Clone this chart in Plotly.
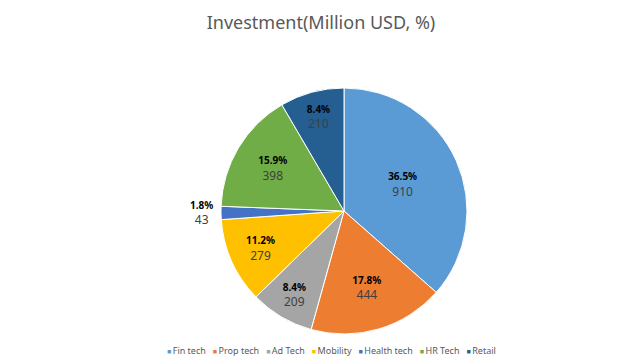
import plotly.graph_objects as go

categories = ["Fin tech", "Prop tech", "Ad Tech", "Mobility", "Health tech", "HR Tech", "Retail"]
values = [910, 444, 209, 279, 43, 398, 210]
percent_labels = ["36.5%", "17.8%", "8.4%", "11.2%", "1.8%", "15.9%", "8.4%"]
colors = ["#5B9BD5", "#ED7D31", "#A5A5A5", "#FFC000", "#4472C4", "#70AD47", "#255E91"]

W, H = 643, 362
cx, cy, r = 336, 203, 123

fig = go.Figure(go.Pie(
    labels=categories,
    values=values,
    customdata=percent_labels,
    sort=False,
    direction="clockwise",
    rotation=0,
    marker=dict(colors=colors, line=dict(color="white", width=1)),
    texttemplate="<b><span style='color:#000000;font-size:10px'>%{customdata}</span></b><br><span style='color:#404040'>%{value}</span>",
    textposition="auto",
    insidetextorientation="horizontal",
    textfont=dict(family="Noto Sans", size=12, color="#404040"),
    insidetextfont=dict(family="Noto Sans", size=12, color="#404040"),
    outsidetextfont=dict(family="Noto Sans", size=12, color="#404040"),
    domain=dict(x=[(cx - r) / W, (cx + r) / W], y=[(H - cy - r) / H, (H - cy + r) / H]),
    hoverinfo="label+value",
    showlegend=False,
))

legend_text = "&nbsp;&nbsp;&nbsp;".join(
    f"<span style='color:{c};font-size:7px'>■</span>&#8201;{name}" for name, c in zip(categories, colors)
)
fig.add_annotation(
    text=legend_text, x=323 / W, xanchor="center", y=1 - 342 / H, yanchor="middle",
    xref="paper", yref="paper", showarrow=False,
    font=dict(family="Noto Sans", size=9, color="#595959"),
)

fig.update_layout(
    width=W, height=H,
    margin=dict(l=0, r=0, t=0, b=0),
    paper_bgcolor="white",
    title=dict(text="Investment(Million USD, %)", x=313 / W, xanchor="center", y=1 - 15 / H, yanchor="middle",
               font=dict(family="Noto Sans", size=18, color="#595959")),
)

fig.write_html("out.html")
